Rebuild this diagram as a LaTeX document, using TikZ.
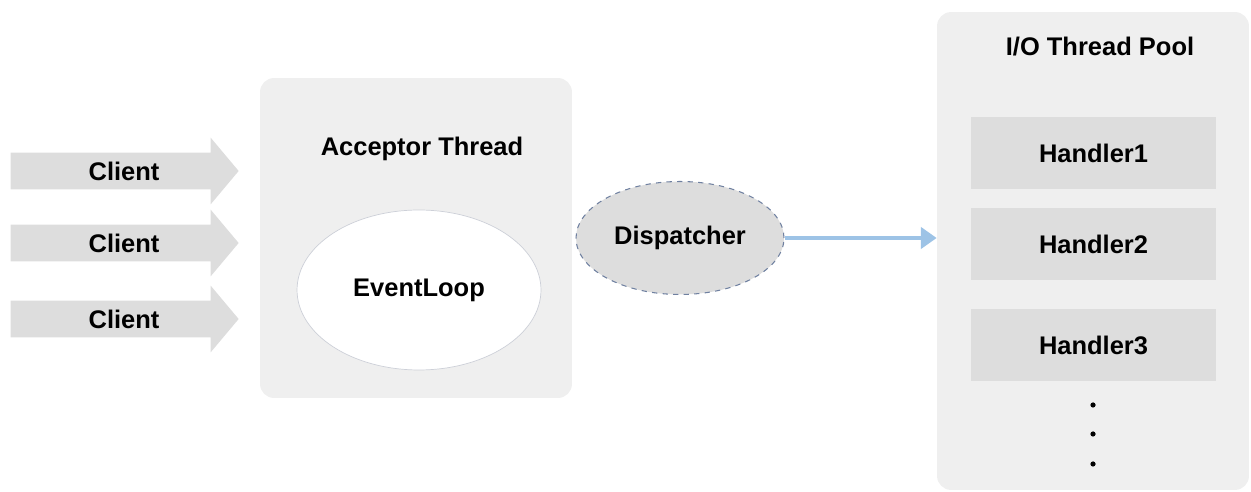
\documentclass[tikz,border=0pt]{standalone}
\usepackage{fontspec}
\setmainfont{Liberation Sans}
\usepackage{tikz}
\usetikzlibrary{arrows.meta,shapes.geometric,shapes.arrows}
\definecolor{panel}{HTML}{EFEFEF}
\definecolor{block}{HTML}{DDDDDD}
\definecolor{dashline}{HTML}{6F80A0}
\definecolor{flow}{HTML}{9DC3E6}
\definecolor{loopline}{HTML}{CDD0D8}

\begin{document}
\begin{tikzpicture}[x=0.02cm, y=-0.02cm,
    font=\fontsize{14.5}{17}\selectfont\bfseries,
    panelbox/.style={fill=panel, rounded corners=8pt, inner sep=0pt},
    clientarrow/.style={single arrow, fill=block, minimum height=4.56cm,
      single arrow head extend=0.3cm, single arrow tip angle=100,
      text height=10.5pt, text depth=0pt, inner ysep=4.95pt, inner xsep=0pt},
    handlerbox/.style={fill=block, minimum width=4.9cm, minimum height=1.44cm}]

  \useasboundingbox (0,0) rectangle (1251,492);

  % --- Acceptor thread ---
  \node[panelbox, minimum width=6.24cm, minimum height=6.4cm] (acceptor) at (416,238) {};
  \node (acctitle) at (422,149) {Acceptor Thread};
  \node[ellipse, fill=white, draw=loopline, thin, minimum width=4.88cm, minimum height=3.2cm]
    (loop) at (419,290) {EventLoop};

  % --- Clients ---
  \foreach \y/\n in {171/1, 243/2, 319/3} {
    \node[clientarrow] (client\n) at (117,\y) {\hspace*{0.28cm}Client};
  }

  % --- Dispatcher ---
  \node[ellipse, fill=block, draw=dashline, dashed, line width=0.6pt, minimum width=4.16cm, minimum height=2.26cm]
    (dispatcher) at (680,238) {Dispatcher};

  % --- I/O thread pool ---
  \node[panelbox, minimum width=6.24cm, minimum height=9.56cm] (pool) at (1093,251) {};
  \node (pooltitle) at (1100,47) {I/O Thread Pool};
  \foreach \y/\n in {153/1, 244/2, 345/3} {
    \node[handlerbox] (handler\n) at (1093.5,\y) {Handler\n};
  }
  \foreach \y in {405, 434, 464} {
    \fill (1093,\y) circle (2.6);
  }

  % --- Dispatch flow ---
  \draw[flow, line width=2.3pt, -{Triangle[length=9pt, width=12pt]}]
    (dispatcher.east) -- (pool.west |- dispatcher.east);

\end{tikzpicture}
\end{document}
